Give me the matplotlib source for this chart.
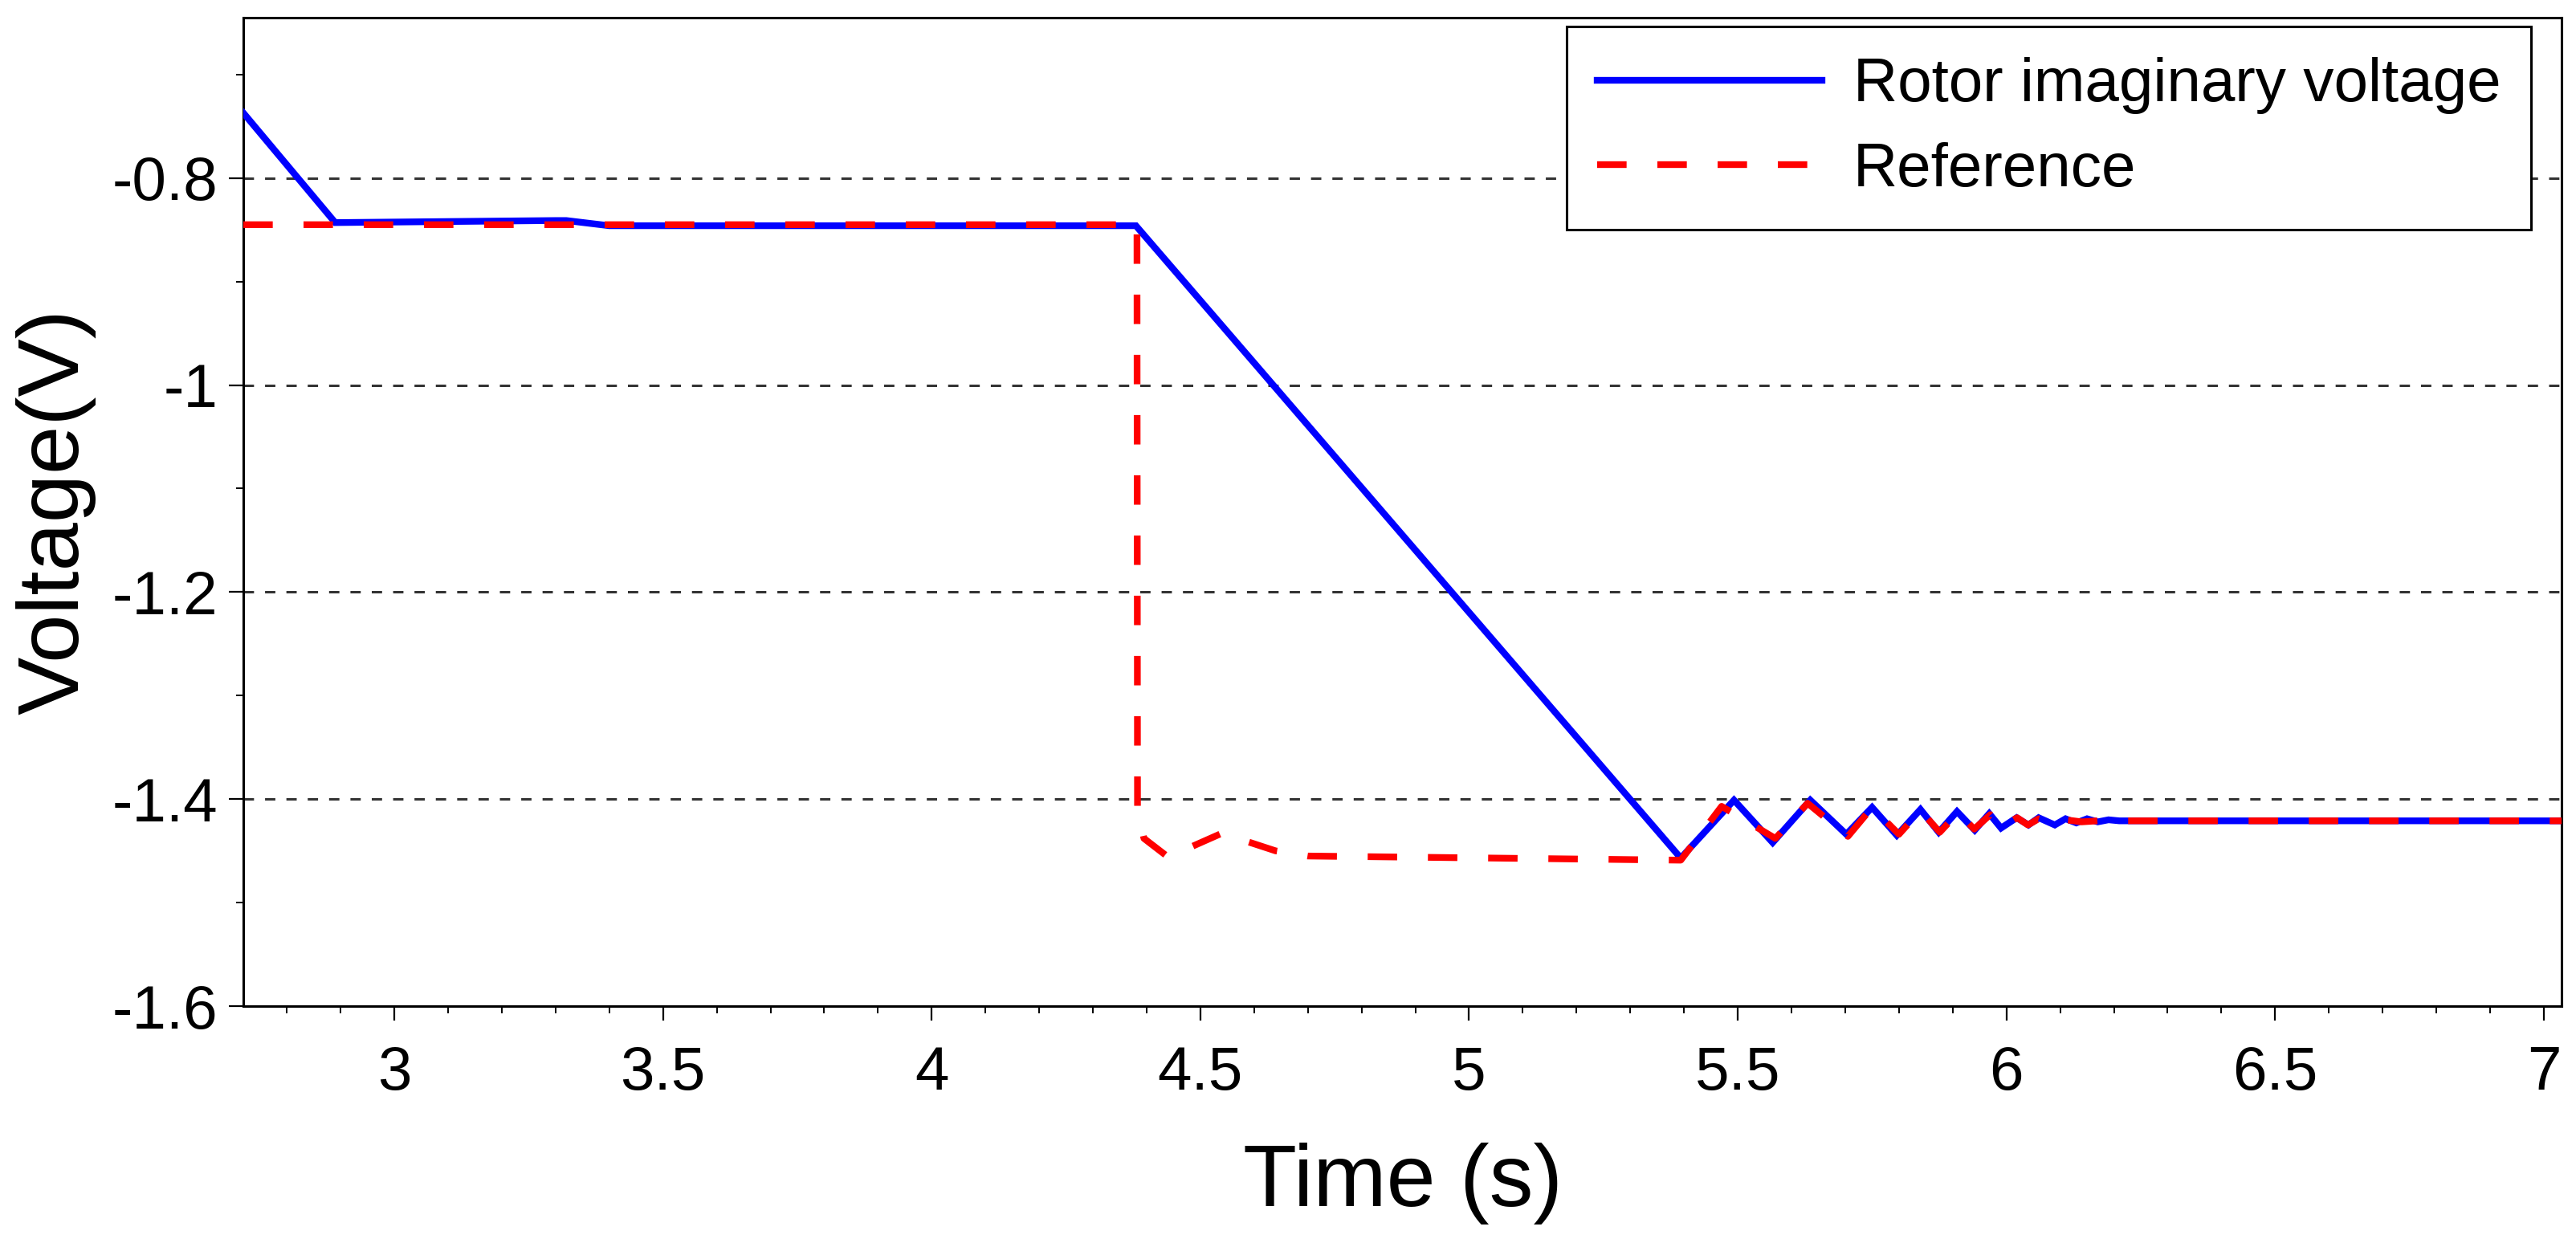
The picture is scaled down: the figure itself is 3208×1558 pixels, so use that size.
import matplotlib
matplotlib.use("Agg")
import matplotlib.pyplot as plt
from matplotlib.ticker import MultipleLocator, FuncFormatter

plt.rcParams['font.family'] = ['Liberation Sans', 'DejaVu Sans']
plt.rcParams['axes.unicode_minus'] = False

# ---- data ----
t_rotor = [2.719, 2.89, 3.30, 3.32, 3.40, 4.38, 5.394, 5.493, 5.565, 5.635, 5.702,
           5.750, 5.796, 5.840, 5.874, 5.908, 5.941, 5.968, 5.990, 6.019, 6.041,
           6.060, 6.090, 6.110, 6.130, 6.150, 6.170, 6.190, 6.210, 7.033]
v_rotor = [-0.737, -0.843, -0.841, -0.841, -0.846, -0.846, -1.457, -1.401, -1.442, -1.401, -1.434,
           -1.408, -1.435, -1.410, -1.432, -1.412, -1.430, -1.414, -1.428, -1.418, -1.425,
           -1.418, -1.425, -1.419, -1.423, -1.419, -1.422, -1.420, -1.421, -1.421]

t_ref = [2.719, 4.382, 4.383, 4.395, 4.44, 4.54, 4.64, 4.70, 5.394, 5.47, 5.57, 5.63,
         5.705, 5.75, 5.80, 5.84, 5.876, 5.91, 5.94, 5.97, 5.99, 6.02, 6.04, 6.06,
         6.09, 6.11, 6.14, 6.17, 7.033]
v_ref = [-0.845, -0.845, -1.41, -1.438, -1.456, -1.433, -1.450, -1.455, -1.459, -1.407, -1.438, -1.404,
         -1.436, -1.408, -1.434, -1.411, -1.432, -1.413, -1.429, -1.415, -1.427, -1.418, -1.425, -1.419,
         -1.424, -1.420, -1.422, -1.421, -1.421]

x_ticks = [3, 3.5, 4, 4.5, 5, 5.5, 6, 6.5, 7]
y_ticks = [-0.8, -1.0, -1.2, -1.4, -1.6]

fig = plt.figure(figsize=(32.08, 15.58), dpi=100)
ax = fig.add_axes([303/3208, 1 - 1253/1558, (3190-303)/3208, (1253-22)/1558])

ax.plot(t_rotor, v_rotor, color='#0000ff', lw=6.0, solid_joinstyle='miter',
        label='Rotor imaginary voltage', zorder=3)
ax.plot(t_ref, v_ref, color='#ff0000', lw=6.0, dashes=(4.4, 4.6),
        label='Reference', zorder=4)

ax.set_xlim(2.719, 7.033)
ax.set_ylim(-1.6, -0.645)
ax.set_xticks(x_ticks)
ax.set_yticks(y_ticks)
ax.xaxis.set_minor_locator(MultipleLocator(0.1))
ax.yaxis.set_minor_locator(MultipleLocator(0.1))
fmt = FuncFormatter(lambda v, p: ('%g' % v))
ax.xaxis.set_major_formatter(fmt)
ax.yaxis.set_major_formatter(fmt)

for yv in y_ticks[:-1]:
    ax.axhline(yv, color='#333333', lw=2.2, dashes=(4.2, 4.5), zorder=1)

ax.tick_params(axis='both', which='major', direction='out', length=13, width=1.6,
               labelsize=55, colors='black')
ax.tick_params(axis='both', which='minor', direction='out', length=6.5, width=1.4)
ax.tick_params(axis='x', which='major', pad=22)
ax.tick_params(axis='y', which='major', pad=10)
for s in ax.spines.values():
    s.set_linewidth(2.2)
    s.set_color('black')

ax.set_xlabel('Time (s)', fontsize=79, labelpad=36)
ax.set_ylabel('Voltage(V)', fontsize=78, labelpad=14)

leg = ax.legend(loc='upper right', bbox_to_anchor=(0.987, 0.991), borderaxespad=0,
                fontsize=55, handlelength=3.67, handletextpad=0.5, labelspacing=0.45,
                borderpad=0.5, fancybox=False, framealpha=1, edgecolor='black')
leg.get_frame().set_linewidth(2.2)

fig.savefig('out.png', dpi=100)
